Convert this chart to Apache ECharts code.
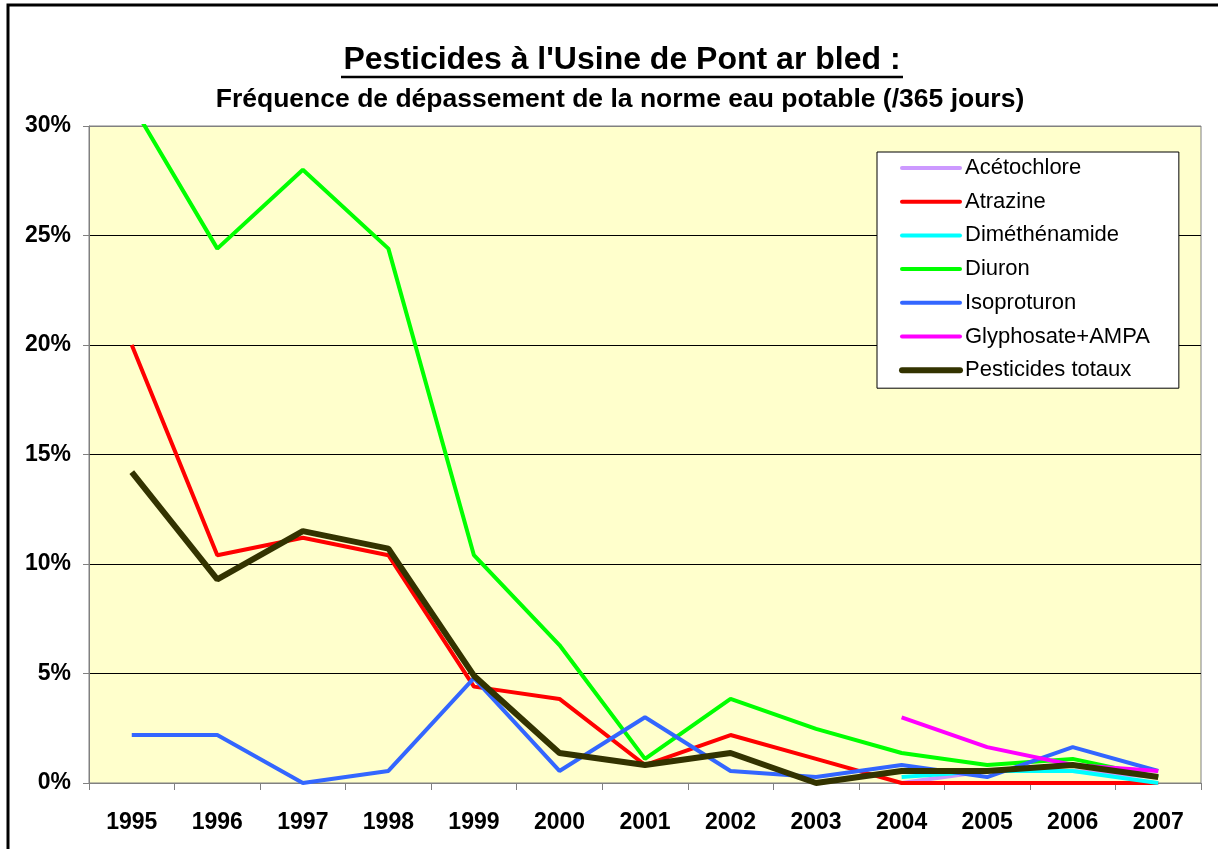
<!DOCTYPE html>
<html>
<head>
<meta charset="utf-8">
<script src="https://cdn.jsdelivr.net/npm/echarts@6/dist/echarts.min.js"></script>
<style>
  html, body { margin: 0; padding: 0; background: #fff; }
  #chart { width: 1218px; height: 849px; }
</style>
</head>
<body>
<div id="chart"></div>
<script>
"use strict";

const years = ["1995", "1996", "1997", "1998", "1999", "2000", "2001", "2002", "2003", "2004", "2005", "2006", "2007"];
const acetochlore = [null, null, null, null, null, null, null, null, null, 0, 0.55, 0.55, 0.27];
const atrazine = [20.0, 10.4, 11.2, 10.4, 4.4, 3.84, 0.82, 2.19, 1.1, 0, 0, 0, 0];
const dimethenamide = [null, null, null, null, null, null, null, null, null, 0.27, 0.55, 0.55, 0];
const diuron = [31.0, 24.4, 28.0, 24.4, 10.4, 6.3, 1.1, 3.84, 2.47, 1.37, 0.82, 1.1, 0.27];
const isoproturon = [2.19, 2.19, 0, 0.55, 4.79, 0.55, 3.0, 0.55, 0.27, 0.82, 0.27, 1.64, 0.55];
const glyphosate = [null, null, null, null, null, null, null, null, null, 3.0, 1.64, 0.82, 0.55];
const totaux = [14.2, 9.3, 11.5, 10.7, 4.9, 1.37, 0.82, 1.37, 0, 0.55, 0.55, 0.82, 0.27];

const font = "'Liberation Sans', Arial, sans-serif";
const grey = "#808080";

const seriesDefs = [
  { name: "Acétochlore", data: acetochlore, color: "#CC99FF", width: 4 },
  { name: "Atrazine", data: atrazine, color: "#FF0000", width: 4 },
  { name: "Diméthénamide", data: dimethenamide, color: "#00FFFF", width: 4 },
  { name: "Diuron", data: diuron, color: "#00FF00", width: 4 },
  { name: "Isoproturon", data: isoproturon, color: "#3366FF", width: 4 },
  { name: "Glyphosate+AMPA", data: glyphosate, color: "#FF00FF", width: 4 },
  { name: "Pesticides totaux", data: totaux, color: "#333300", width: 6 },
];

const chart = echarts.init(document.getElementById("chart"), null, { renderer: "canvas" });

chart.setOption({
  animation: false,
  backgroundColor: "#fff",
  title: [
    {
      text: "Pesticides à l'Usine de Pont ar bled :",
      left: 622, top: 44, textAlign: "center", padding: 0,
      textStyle: { fontFamily: font, fontSize: 32, fontWeight: "bold", color: "#000" },
    },
    {
      text: "Fréquence de dépassement de la norme eau potable (/365 jours)",
      left: 620, top: 86, textAlign: "center", padding: 0,
      textStyle: { fontFamily: font, fontSize: 26.5, fontWeight: "bold", color: "#000" },
    },
  ],
  graphic: [
    { type: "rect", shape: { x: 8, y: 5, width: 1240, height: 900 }, style: { fill: null, stroke: "#000", lineWidth: 3 }, silent: true },
    { type: "line", shape: { x1: 341, y1: 77, x2: 903, y2: 77 }, style: { stroke: "#000", lineWidth: 2.5 }, silent: true },
  ],
  legend: {
    orient: "vertical", left: 877, top: 152,
    backgroundColor: "#fff", borderColor: "#000", borderWidth: 1,
    padding: [4, 29, 6, 22],
    itemWidth: 58, itemHeight: 14, itemGap: 9.7,
    itemStyle: { opacity: 0 },
    textStyle: { fontFamily: font, fontSize: 22, color: "#000", lineHeight: 24 },
    data: seriesDefs.map((s) => ({ name: s.name, lineStyle: { width: s.width, color: s.color, cap: "round" } })),
  },
  grid: {
    left: 89, right: 17, top: 126, bottom: 66,
    show: true, backgroundColor: "#FFFFCC", borderColor: grey, borderWidth: 1,
  },
  xAxis: {
    type: "category", data: years, boundaryGap: true,
    axisLine: { lineStyle: { color: grey, width: 1 } },
    axisTick: { show: true, length: 7, lineStyle: { color: grey } },
    axisLabel: { fontFamily: font, fontSize: 23, fontWeight: "bold", color: "#000", margin: 28 },
  },
  yAxis: {
    type: "value", min: 0, max: 30, interval: 5,
    axisLine: { show: true, lineStyle: { color: grey, width: 1 } },
    axisTick: { show: true, length: 6, lineStyle: { color: grey } },
    axisLabel: { fontFamily: font, fontSize: 23, fontWeight: "bold", color: "#000", margin: 18, formatter: "{value}%" },
    splitLine: { show: true, lineStyle: { color: [grey, "#000", "#000", "#000", "#000", "#000", grey], width: 1 } },
  },
  series: seriesDefs.map((s) => ({
    name: s.name, type: "line", data: s.data, symbol: "none", clip: true,
    connectNulls: false,
    lineStyle: { color: s.color, width: s.width },
    itemStyle: { color: s.color },
  })),
});
</script>
</body>
</html>
